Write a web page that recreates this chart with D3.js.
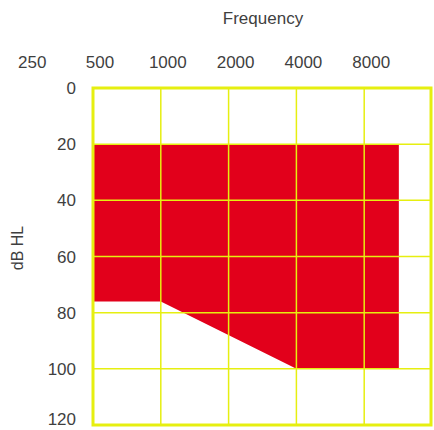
<!DOCTYPE html>
<html>
<head>
<meta charset="utf-8">
<script src="https://cdn.jsdelivr.net/npm/d3@7"></script>
<style>
  body { margin: 0; background: #fff; }
  text { font-family: "Liberation Sans", Arial, sans-serif; fill: #3f3f3f; }
</style>
</head>
<body>
<div id="chart"></div>
<script>
// tick labels
var freqs = [250, 500, 1000, 2000, 4000, 8000];
var gridFreqs = [500, 1000, 2000, 4000, 8000, 16000];
var dbTicks = [0, 20, 40, 60, 80, 100, 120];

// hearing-loss region outline (frequency, dB HL)
var areaFreq = [500, 1000, 4000, 11400, 11400, 500];
var areaDb   = [76, 76, 100, 100, 20, 20];

var W = 434, H = 430;
var m = [88, 2, 5, 93]; // top, right, bottom, left

var x = d3.scaleLog().base(2).domain([500, 16000]).range([m[3], W - m[1]]);
var y = d3.scaleLinear().domain([0, 120]).range([m[0], H - m[2]]);

var svg = d3.select("#chart").append("svg")
    .attr("width", W)
    .attr("height", H);

var pts = areaFreq.map(function(f, i) { return [x(f), y(areaDb[i])]; });
svg.append("path")
    .attr("d", d3.line()(pts) + "Z")
    .attr("fill", "#e2001b");

var yellow = "#e6ef10";

// grid
svg.selectAll("line.v").data(gridFreqs.slice(1, -1)).enter().append("line")
    .attr("x1", function(d) { return x(d); })
    .attr("x2", function(d) { return x(d); })
    .attr("y1", y(0)).attr("y2", y(120))
    .attr("stroke", yellow).attr("stroke-width", 1.5);

svg.selectAll("line.h").data(dbTicks.slice(1, -1)).enter().append("line")
    .attr("x1", x(500)).attr("x2", x(16000))
    .attr("y1", function(d) { return y(d); })
    .attr("y2", function(d) { return y(d); })
    .attr("stroke", yellow).attr("stroke-width", 1.5);

svg.append("rect")
    .attr("x", x(500)).attr("y", y(0))
    .attr("width", x(16000) - x(500) - 1)
    .attr("height", y(120) - y(0))
    .attr("fill", "none")
    .attr("stroke", yellow).attr("stroke-width", 3);

// x labels along the top
svg.selectAll("text.fx").data(freqs).enter().append("text")
    .attr("x", function(d) { return x(d) + 7; })
    .attr("y", 68)
    .attr("text-anchor", "middle")
    .style("font-size", "17px")
    .text(function(d) { return d; });

// y labels
svg.selectAll("text.dy").data(dbTicks).enter().append("text")
    .attr("x", 76)
    .attr("y", function(d) { return Math.min(y(d) + 6, 425); })
    .attr("text-anchor", "end")
    .style("font-size", "17px")
    .text(function(d) { return d; });

svg.append("text")
    .attr("x", 263).attr("y", 24)
    .attr("text-anchor", "middle")
    .style("font-size", "17px")
    .text("Frequency");

svg.append("text")
    .attr("transform", "translate(23,248) rotate(-90)")
    .attr("text-anchor", "middle")
    .style("font-size", "16px")
    .text("dB HL");
</script>
</body>
</html>
